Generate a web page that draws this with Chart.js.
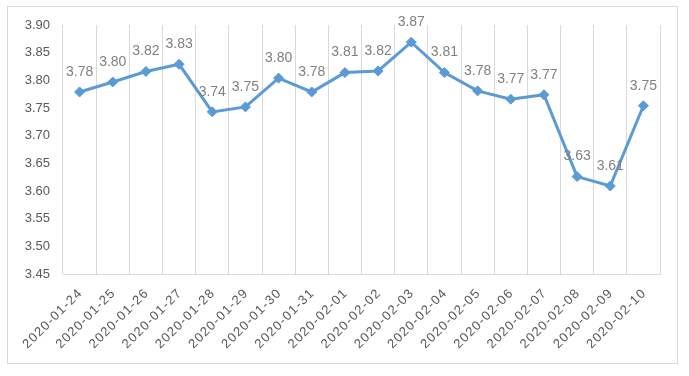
<!DOCTYPE html>
<html lang="en">
<head>
    <meta charset="UTF-8">
    <title>Daily Values</title>
    <script src="https://cdn.jsdelivr.net/npm/chart.js"></script>
    <style>
        body { margin: 0; background: #ffffff; }
        #wrap { width: 689px; height: 376px; }
    </style>
</head>
<body>
    <div id="wrap"><canvas id="lineChart" width="689" height="376"></canvas></div>

    <script>
        const dates = ['2020-01-24', '2020-01-25', '2020-01-26', '2020-01-27', '2020-01-28', '2020-01-29',
            '2020-01-30', '2020-01-31', '2020-02-01', '2020-02-02', '2020-02-03', '2020-02-04',
            '2020-02-05', '2020-02-06', '2020-02-07', '2020-02-08', '2020-02-09', '2020-02-10'];
        const values = [3.779, 3.797, 3.816, 3.829, 3.743, 3.752, 3.804, 3.779, 3.814, 3.817,
            3.869, 3.814, 3.781, 3.766, 3.774, 3.626, 3.609, 3.754];
        const valueLabels = ['3.78', '3.80', '3.82', '3.83', '3.74', '3.75', '3.80', '3.78', '3.81', '3.82',
            '3.87', '3.81', '3.78', '3.77', '3.77', '3.63', '3.61', '3.75'];
        const yMin = 3.45, yMax = 3.90, yStep = 0.05;

        const lineColor = '#5b9bd5';
        const gridColor = '#d9d9d9';

        // outer frame around whole chart
        const framePlugin = {
            id: 'frame',
            beforeDraw(chart) {
                const ctx = chart.ctx;
                ctx.save();
                ctx.fillStyle = '#ffffff';
                ctx.fillRect(0, 0, chart.width, chart.height);
                ctx.strokeStyle = gridColor;
                ctx.lineWidth = 1;
                ctx.strokeRect(7.5, 6.5, 670, 357);
                ctx.restore();
            }
        };

        // value labels above points + rotated date labels (spaced letters)
        const labelPlugin = {
            id: 'labels',
            afterDatasetsDraw(chart) {
                const ctx = chart.ctx;
                const meta = chart.getDatasetMeta(0);
                ctx.save();
                ctx.font = '14px "Liberation Sans", Arial, sans-serif';
                ctx.fillStyle = '#808080';
                ctx.textAlign = 'center';
                ctx.textBaseline = 'middle';
                meta.data.forEach((pt, i) => {
                    ctx.fillText(valueLabels[i], pt.x, pt.y - 20);
                });
                ctx.restore();

                const xScale = chart.scales.x;
                ctx.save();
                ctx.font = '13px "Liberation Sans", Arial, sans-serif';
                ctx.fillStyle = '#595959';
                ctx.textAlign = 'right';
                ctx.textBaseline = 'middle';
                if ('letterSpacing' in ctx) ctx.letterSpacing = '1.2px';
                dates.forEach((d, i) => {
                    const x = xScale.getPixelForTick(i);
                    ctx.save();
                    ctx.translate(x + 1, xScale.top + 17);
                    ctx.rotate(-Math.PI / 4);
                    ctx.fillText(d, 0, 0);
                    ctx.restore();
                });
                ctx.restore();
            }
        };

        new Chart(document.getElementById('lineChart').getContext('2d'), {
            type: 'line',
            data: {
                labels: dates,
                datasets: [{
                    data: values,
                    borderColor: lineColor,
                    backgroundColor: lineColor,
                    borderWidth: 3,
                    tension: 0,
                    pointStyle: 'rectRot',
                    pointRadius: 5,
                    pointBackgroundColor: lineColor,
                    pointBorderColor: lineColor,
                    pointBorderWidth: 1
                }]
            },
            options: {
                responsive: false,
                animation: false,
                layout: { padding: { left: 0, top: 25, right: 29, bottom: 0 } },
                plugins: {
                    legend: { display: false },
                    tooltip: { enabled: false }
                },
                scales: {
                    x: {
                        offset: true,
                        grid: { display: true, offset: true, color: gridColor, drawTicks: false },
                        border: { display: true, color: gridColor },
                        ticks: { display: false, autoSkip: false },
                        afterFit: (scale) => { scale.height = 102; }
                    },
                    y: {
                        min: yMin,
                        max: yMax,
                        grid: { display: false, drawTicks: false },
                        border: { display: false },
                        ticks: {
                            stepSize: yStep,
                            padding: 13,
                            color: '#595959',
                            font: { family: '"Liberation Sans", Arial, sans-serif', size: 13 },
                            callback: (v) => v.toFixed(2)
                        },
                        afterFit: (scale) => { scale.width = 63; }
                    }
                }
            },
            plugins: [framePlugin, labelPlugin]
        });
    </script>
</body>
</html>
